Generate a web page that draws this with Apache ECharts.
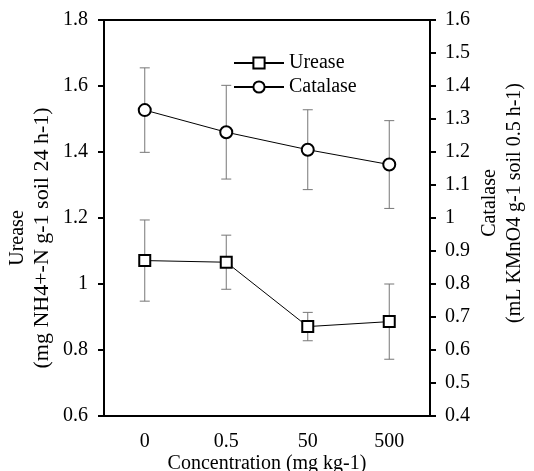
<!DOCTYPE html>
<html>
<head>
<meta charset="utf-8">
<script src="https://cdn.jsdelivr.net/npm/echarts@6/dist/echarts.min.js"></script>
<style>
  html, body { margin: 0; padding: 0; background: #fff; }
  #chart { width: 534px; height: 471px; }
</style>
</head>
<body>
<div id="chart"></div>
<script>
// values
const categories = ['0', '0.5', '50', '500'];
const ureaseMean = [1.071, 1.066, 0.871, 0.886];
const ureaseErr = [0.123, 0.082, 0.043, 0.114];
const catalaseMean = [1.327, 1.260, 1.207, 1.162];
const catalaseErr = [0.128, 0.142, 0.121, 0.133];

const font = 'Liberation Serif, Times New Roman, serif';

// [category index, low, high] for the error bar series
function errData(mean, err) {
  return mean.map((m, i) => [i, m - err[i], m + err[i]]);
}

function renderErrorBar(params, api) {
  const lo = api.coord([api.value(0), api.value(1)]);
  const hi = api.coord([api.value(0), api.value(2)]);
  const half = 5;
  const style = { stroke: '#777', lineWidth: 1 };
  return {
    type: 'group',
    children: [
      { type: 'line', shape: { x1: hi[0], y1: hi[1], x2: lo[0], y2: lo[1] }, style },
      { type: 'line', shape: { x1: hi[0] - half, y1: hi[1], x2: hi[0] + half, y2: hi[1] }, style },
      { type: 'line', shape: { x1: lo[0] - half, y1: lo[1], x2: lo[0] + half, y2: lo[1] }, style }
    ]
  };
}

const chart = echarts.init(document.getElementById('chart'), null, { renderer: 'canvas' });

const axisText = { fontFamily: font, fontSize: 20, color: '#000' };
const nameRich = {
  a: { fontFamily: font, fontSize: 20, lineHeight: 25, color: '#000' },
  b: { fontFamily: font, fontSize: 22, lineHeight: 25, color: '#000' }
};

chart.setOption({
  animation: false,
  backgroundColor: '#fff',
  textStyle: { fontFamily: font },
  grid: {
    left: 104, right: 104, top: 20, bottom: 55,
    outerBoundsMode: 'none',
    containLabel: false,
    show: true, borderColor: '#000', borderWidth: 2
  },
  legend: {
    orient: 'vertical',
    left: 228, top: 48,
    itemWidth: 50, itemHeight: 14, itemGap: 4,
    textStyle: { fontFamily: font, fontSize: 20, color: '#000' },
    data: ['Urease', 'Catalase']
  },
  xAxis: {
    type: 'category',
    data: categories,
    name: 'Concentration (mg kg-1)',
    nameLocation: 'middle',
    nameMoveOverlap: false,
    nameGap: 38,
    nameTextStyle: axisText,
    axisLine: { lineStyle: { color: '#000', width: 2 } },
    axisTick: { show: false },
    axisLabel: { ...axisText, margin: 16 },
    splitLine: { show: false }
  },
  yAxis: [
    {
      type: 'value',
      min: 0.6, max: 1.8, interval: 0.2,
      name: '{a|Urease}\n{b|(mg NH4+-N g-1 soil 24 h-1)}',
      nameLocation: 'middle',
      nameMoveOverlap: false,
      nameRotate: 90,
      nameGap: 49,
      nameTextStyle: { ...axisText, padding: [0, 40, 0, 0], rich: nameRich },
      axisLine: { show: true, lineStyle: { color: '#000', width: 2 } },
      axisTick: { show: true, length: 6, lineStyle: { color: '#000', width: 2 } },
      axisLabel: { ...axisText, margin: 16, formatter: v => String(+v.toFixed(1)) },
      splitLine: { show: false }
    },
    {
      type: 'value',
      min: 0.4, max: 1.6, interval: 0.1,
      position: 'right',
      name: '{a|Catalase}\n{a|(mL KMnO4 g-1 soil 0.5 h-1)}',
      nameLocation: 'middle',
      nameMoveOverlap: false,
      nameRotate: 90,
      nameGap: 47,
      nameTextStyle: { ...axisText, padding: [0, 0, 0, 30], rich: nameRich },
      axisLine: { show: true, lineStyle: { color: '#000', width: 2 } },
      axisTick: { show: true, length: 6, lineStyle: { color: '#000', width: 2 } },
      axisLabel: { ...axisText, margin: 15, formatter: v => String(+v.toFixed(1)) },
      splitLine: { show: false }
    }
  ],
  series: [
    {
      type: 'custom',
      yAxisIndex: 0,
      renderItem: renderErrorBar,
      encode: { x: 0, y: [1, 2] },
      data: errData(ureaseMean, ureaseErr),
      z: 1
    },
    {
      type: 'custom',
      yAxisIndex: 1,
      renderItem: renderErrorBar,
      encode: { x: 0, y: [1, 2] },
      data: errData(catalaseMean, catalaseErr),
      z: 1
    },
    {
      name: 'Urease',
      type: 'line',
      yAxisIndex: 0,
      data: ureaseMean,
      symbol: 'rect',
      symbolSize: 11,
      lineStyle: { color: '#000', width: 1 },
      itemStyle: { color: '#fff', borderColor: '#000', borderWidth: 2 },
      z: 3
    },
    {
      name: 'Catalase',
      type: 'line',
      yAxisIndex: 1,
      data: catalaseMean,
      symbol: 'circle',
      symbolSize: 12,
      lineStyle: { color: '#000', width: 1 },
      itemStyle: { color: '#fff', borderColor: '#000', borderWidth: 2 },
      z: 3
    }
  ]
});
</script>
</body>
</html>
